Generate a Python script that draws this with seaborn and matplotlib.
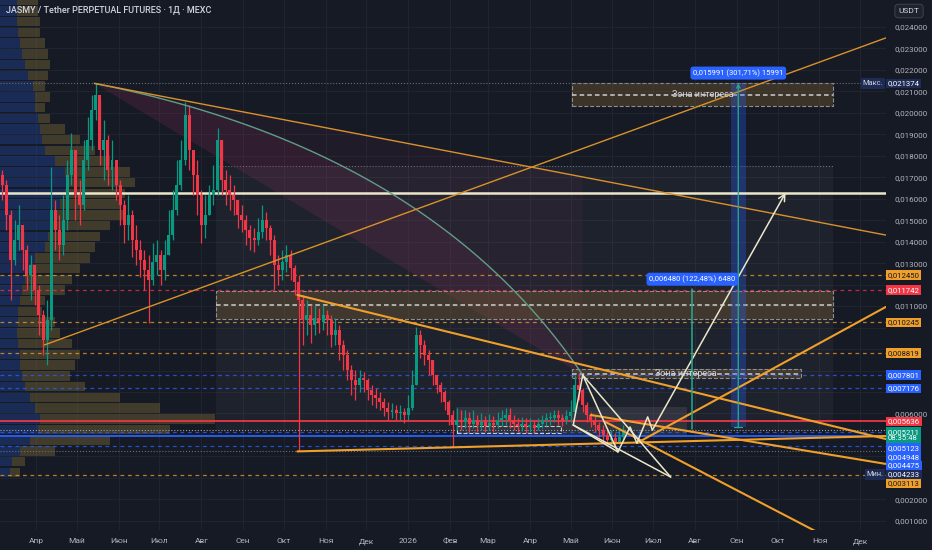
import numpy as np
import pandas as pd
import seaborn as sns
import matplotlib.pyplot as plt
from matplotlib.patches import Rectangle
from matplotlib.transforms import blended_transform_factory

sns.set_theme(style="dark")
plt.rcParams['font.family'] = ['Roboto', 'DejaVu Sans']

# ---- candles (3-day bars, prices in USDT) ----
first_open = 0.01710
closes = [0.01664, 0.01524, 0.01315, 0.01408, 0.01478, 0.01361, 0.01245, 0.01292, 0.01175, 0.01059,
          0.00942, 0.01035, 0.01548, 0.01455, 0.01385, 0.01501, 0.01711, 0.01827, 0.01618, 0.01571,
          0.01781, 0.01874, 0.02013, 0.02083, 0.01827, 0.01874, 0.01734, 0.01781, 0.01664, 0.01571,
          0.01478, 0.01524, 0.01408, 0.01361, 0.01315, 0.01268, 0.01222, 0.01305, 0.01338, 0.01268,
          0.01338, 0.01431, 0.01548, 0.01664, 0.01781, 0.01990, 0.01827, 0.01711, 0.01618,
          0.01478, 0.01524, 0.01618, 0.01641, 0.01874, 0.01687, 0.01641, 0.01618, 0.01594, 0.01524,
          0.01501, 0.01455, 0.01417, 0.01408, 0.01445, 0.01501, 0.01464, 0.01408, 0.01292, 0.01268,
          0.01305, 0.01338, 0.01278, 0.01212, 0.01129, 0.01035, 0.01059, 0.01012, 0.01045, 0.01026,
          0.01059, 0.01035, 0.00965, 0.00989, 0.00919, 0.00872, 0.00802, 0.00756, 0.00733, 0.00765,
          0.00756, 0.00709, 0.00686, 0.00672, 0.00653, 0.00625, 0.00607, 0.00616, 0.00602,
          0.00607, 0.00593, 0.00625, 0.00733, 0.00965, 0.00919, 0.00872, 0.00849, 0.00779, 0.00733,
          0.00700, 0.00653, 0.00593, 0.00546, 0.00570, 0.00560, 0.00579, 0.00551, 0.00570, 0.00546,
          0.00560, 0.00542, 0.00556, 0.00546, 0.00570, 0.00579, 0.00593, 0.00570, 0.00551, 0.00542,
          0.00551, 0.00537, 0.00546, 0.00532, 0.00551, 0.00570, 0.00579, 0.00579, 0.00593,
          0.00579, 0.00570, 0.00588, 0.00607, 0.00733, 0.00709, 0.00639, 0.00593, 0.00570, 0.00546,
          0.00523, 0.00500, 0.00476, 0.00486, 0.00467, 0.00490, 0.005211]
highs = [0.01734, 0.01687, 0.01548, 0.01501, 0.01571, 0.01455, 0.01385, 0.01338, 0.01268, 0.01198,
         0.01082, 0.01129, 0.01748, 0.01594, 0.01524, 0.01618, 0.01781, 0.01906, 0.01781, 0.01687,
         0.01874, 0.01981, 0.02083, 0.021374, 0.02060, 0.01967, 0.01897, 0.01874, 0.01757, 0.01687,
         0.01594, 0.01618, 0.01548, 0.01478, 0.01408, 0.01361, 0.01338, 0.01394, 0.01408, 0.01361,
         0.01408, 0.01548, 0.01641, 0.01781, 0.01874, 0.02051, 0.02037, 0.01827, 0.01781,
         0.01641, 0.01618, 0.01664, 0.01757, 0.01930, 0.01874, 0.01734, 0.01711, 0.01664, 0.01594,
         0.01571, 0.01524, 0.01478, 0.01464, 0.01511, 0.01571, 0.01538, 0.01478, 0.01431, 0.01338,
         0.01361, 0.01385, 0.01361, 0.01292, 0.01245, 0.01152, 0.01129, 0.01105, 0.01105, 0.01091,
         0.01105, 0.01082, 0.01059, 0.01045, 0.01012, 0.00942, 0.00896, 0.00826, 0.00802, 0.00802,
         0.00793, 0.00765, 0.00733, 0.00719, 0.00700, 0.00672, 0.00653, 0.00649, 0.00639,
         0.00639, 0.00625, 0.00686, 0.00802, 0.01003, 0.00989, 0.00942, 0.00896, 0.00849, 0.00779,
         0.00747, 0.00709, 0.00663, 0.00616, 0.00625, 0.00616, 0.00616, 0.00607, 0.00616, 0.00593,
         0.00602, 0.00588, 0.00597, 0.00588, 0.00607, 0.00616, 0.00625, 0.00625, 0.00593, 0.00579,
         0.00584, 0.00579, 0.00579, 0.00570, 0.00579, 0.00593, 0.00602, 0.00607, 0.00616,
         0.00616, 0.00597, 0.00616, 0.00663, 0.00779, 0.00788, 0.00719, 0.00653, 0.00607, 0.00593,
         0.00560, 0.00546, 0.00523, 0.00523, 0.00509, 0.00532, 0.00546]
lows = [0.01594, 0.01455, 0.01129, 0.01292, 0.01361, 0.01268, 0.01175, 0.01129, 0.01105, 0.00965,
        0.00872, 0.00826, 0.00989, 0.01361, 0.01315, 0.01338, 0.01455, 0.01664, 0.01501, 0.01478,
        0.01548, 0.01734, 0.01827, 0.01967, 0.01757, 0.01687, 0.01664, 0.01641, 0.01594, 0.01478,
        0.01394, 0.01408, 0.01329, 0.01292, 0.01236, 0.01175, 0.01021, 0.01198, 0.01245, 0.01198,
        0.01222, 0.01338, 0.01408, 0.01524, 0.01641, 0.01757, 0.01734, 0.01618, 0.01524,
        0.01394, 0.01417, 0.01524, 0.01571, 0.01618, 0.01618, 0.01571, 0.01548, 0.01524, 0.01464,
        0.01445, 0.01385, 0.01361, 0.01352, 0.01385, 0.01417, 0.01408, 0.01338, 0.01175, 0.01198,
        0.01222, 0.01259, 0.01222, 0.01152, 0.004233, 0.00919, 0.00965, 0.00928, 0.00965, 0.00975,
        0.00989, 0.00965, 0.00910, 0.00919, 0.00849, 0.00802, 0.00756, 0.00686, 0.00663, 0.00700,
        0.00700, 0.00663, 0.00639, 0.00625, 0.00616, 0.00588, 0.00570, 0.00579, 0.00570,
        0.00570, 0.00556, 0.00570, 0.00616, 0.00733, 0.00858, 0.00826, 0.00779, 0.00733, 0.00695,
        0.00653, 0.00616, 0.00546, 0.00444, 0.00523, 0.00523, 0.00532, 0.00514, 0.00532, 0.00514,
        0.00523, 0.00514, 0.00523, 0.00514, 0.00532, 0.00542, 0.00546, 0.00532, 0.00523, 0.00514,
        0.00518, 0.00509, 0.00514, 0.00509, 0.00523, 0.00532, 0.00542, 0.00546, 0.00560,
        0.00546, 0.00542, 0.00551, 0.00560, 0.00593, 0.00663, 0.00607, 0.00560, 0.00537, 0.00514,
        0.00490, 0.00467, 0.00448, 0.00453, 0.00439, 0.00458, 0.00476]
candle_start = pd.Timestamp("2025-03-07")
base_date = pd.Timestamp("2025-04-01")

month_labels = ["Апр", "Май", "Июн", "Июл", "Авг", "Сен", "Окт", "Ноя", "Дек", "2026", "Фев",
                "Мар", "Апр", "Май", "Июн", "Июл", "Авг", "Сен", "Окт", "Ноя", "Дек"]

# ---- visible range volume profile ----
vp_price = [0.02525, 0.02475, 0.02425, 0.02375, 0.02325, 0.02275, 0.02225, 0.02175, 0.02125, 0.02075,
            0.02025, 0.01975, 0.01925, 0.01875, 0.01825, 0.01775, 0.01725, 0.01675, 0.01625, 0.01575,
            0.01525, 0.01475, 0.01425, 0.01375, 0.01325, 0.01275, 0.01225, 0.01175, 0.01125, 0.01075,
            0.01025, 0.00975, 0.00925, 0.00875, 0.00825, 0.00775, 0.00725, 0.00675, 0.00625, 0.00575,
            0.00525, 0.00475, 0.00425, 0.00375, 0.00325]
vp_up = [17, 17, 17, 18, 20, 22, 25, 28, 33, 35, 35, 38, 40, 42, 45, 55, 65, 68, 65, 60,
         55, 50, 48, 45, 35, 30, 25, 22, 20, 18, 18, 17, 18, 20, 20, 22, 25, 30, 35, 40,
         38, 30, 20, 12, 10]
vp_total = [38, 38, 40, 40, 45, 48, 50, 48, 45, 50, 45, 50, 65, 80, 95, 110, 130, 135, 125, 120,
            125, 110, 100, 95, 90, 80, 72, 65, 45, 42, 55, 60, 72, 80, 75, 70, 85, 120, 160, 215,
            170, 110, 55, 25, 20]

# ---- horizontal levels ----
level_prices = [0.012450, 0.011742, 0.010245, 0.008819, 0.007801, 0.007176, 0.005636,
                0.005123, 0.004948, 0.004475, 0.003113]
level_colors = ["orange", "red", "orange", "orange", "blue", "blue", "red",
                "blue", "blue", "blue", "orange"]
level_solid = [False, False, False, False, False, False, True, False, True, False, False]
max_price = 0.021374
min_price = 0.004233
last_price = 0.005211
countdown = "08:35:48"
target_level = 0.01628

# ---- drawings (day from 2025-04-01, price) ----
fan_line = [(43, 0.021374), (628, 0.01431)]
rising_line = [(6, 0.00919), (628, 0.02349)]
arc_ctrl = [(43, 0.021374), (292, 0.01827), (404, 0.00779)]
wedge_lines = [[(193, 0.01152), (628, 0.00481)],
               [(193, 0.004233), (628, 0.00495)],
               [(410, 0.00593), (628, 0.00365)],
               [(421, 0.00560), (580, 0.00039)],
               [(444, 0.00462), (628, 0.01096)]]
white_lines = [[(397, 0.00546), (404, 0.00779)],
               [(404, 0.00779), (430, 0.00421)],
               [(404, 0.00779), (469, 0.00304)],
               [(397, 0.00546), (430, 0.00421)],
               [(397, 0.00546), (469, 0.00304)]]
path_days = [430, 439, 444, 452, 455.5]
path_prices = [0.00421, 0.00537, 0.00462, 0.00584, 0.00523]
path_target = (554, 0.01628)

big_box = (133, 589, 0.00523, 0.01753)
mid_zone = (133, 589, 0.01040, 0.01171)
top_zone = (396, 589, 0.02032, 0.02139)
low_zone = (396, 565, 0.00765, 0.00807)
range_box = (310, 481, 0.00500, 0.00630)
small_box = (311, 388, 0.00509, 0.00542)

blue_range = (519, 0.005383, 0.021374, "0,015991 (301,71%) 15991")
green_range = (485, 0.005294, 0.011774, "0,006480 (122,48%) 6480")

# ---- colours ----
BG = "#161a25"
GRID = "#222631"
TXT = "#b2b5be"
UP, DOWN = "#089981", "#f23645"
ORANGE, RED, BLUE = "#f0a02a", "#f23645", "#2962ff"
CREAM = "#ebe7c9"
col_map = {"orange": ORANGE, "red": RED, "blue": BLUE}

fig = plt.figure(figsize=(9.32, 5.5), dpi=100, facecolor=BG)
ax = fig.add_axes([0, 20 / 550, 886 / 932, 530 / 550])
ax.set_facecolor(BG)
for s in ax.spines.values():
    s.set_visible(False)

month_days = (pd.date_range("2025-04-01", "2026-12-01", freq="MS") - base_date).days
ax.set_xticks(month_days)
ax.set_xticklabels(month_labels, va="baseline")
ax.tick_params(axis="x", length=0, pad=9.5, labelsize=6, labelcolor=TXT)

# price tags, stacked downwards like TradingView does
tags = [(p, f"{p:.6f}".replace(".", ","), col_map[c],
         "#131722" if c == "orange" else "white", 1)
        for p, c in zip(level_prices, level_colors)]
tags += [(max_price, f"{max_price:.6f}".replace(".", ","), "#1e2c55", "white", 1),
         (min_price, f"{min_price:.6f}".replace(".", ","), "#1e2c55", "white", 1),
         (last_price, f"{last_price:.6f}".replace(".", ",") + "\n" + countdown, UP, "white", 2)]
tags.sort(key=lambda r: -r[0])
step = 0.00041
floor = 1.0
tag_pos = []
for p, s, fc, tc, n in tags:
    top = min(p + step / 2, floor)
    floor = top - step * n
    tag_pos.append((top, floor))

yt = np.arange(1, 25) / 1000
covered = [any(bot - 0.00015 < v < top + 0.00015 for top, bot in tag_pos) for v in yt]
ax.yaxis.tick_right()
ax.set_yticks(yt)
ax.set_yticklabels(["" if cv else f"{v:.6f}".replace(".", ",") for v, cv in zip(yt, covered)])
ax.tick_params(axis="y", length=0, pad=6, labelsize=5.8, labelcolor=TXT)
ax.grid(True, color=GRID, lw=0.6)
ax.set_axisbelow(True)

trans = blended_transform_factory(ax.transAxes, ax.transData)

# volume profile on the left
vp_scale = 0.243 / max(vp_total)
for p, u, t in zip(vp_price, vp_up, vp_total):
    ax.add_patch(Rectangle((0, p - 0.00022), u * vp_scale, 0.00044, transform=trans,
                           fc="#1f3a80", alpha=0.55, lw=0, zorder=1.2))
    ax.add_patch(Rectangle((u * vp_scale, p - 0.00022), (t - u) * vp_scale, 0.00044,
                           transform=trans, fc="#6b5d32", alpha=0.5, lw=0, zorder=1.2))

# boxes
def box(b, fc, alpha, ec=None, ls="--", z=1):
    ax.add_patch(Rectangle((b[0], b[2]), b[1] - b[0], b[3] - b[2], fc=fc, alpha=alpha,
                           lw=0, zorder=z))
    if ec:
        ax.add_patch(Rectangle((b[0], b[2]), b[1] - b[0], b[3] - b[2], fill=False, ec=ec,
                               lw=0.8, ls=ls, zorder=z + 0.1))

box(big_box, "#9598a1", 0.07, z=1)
ax.plot([big_box[0], big_box[1]], [big_box[3]] * 2, ls=":", color="#6a6d78", lw=0.8, zorder=1.1)
box(range_box, "#9598a1", 0.16, z=1.3)
box(small_box, "#000000", 0.0, ec="#c8c8c8", z=3.5)
for z_ in (mid_zone, top_zone, low_zone):
    box(z_, "#6b5530", 0.45, ec="#8f8f8f", z=2)
    ax.plot([z_[0], z_[1]], [(z_[2] + z_[3]) / 2] * 2, ls=(0, (3, 2)), color="#cfcfcf",
            lw=1.1, zorder=2.2)
for z_ in (top_zone, low_zone):
    ax.text((z_[0] + z_[1]) / 2, (z_[2] + z_[3]) / 2, "Зона интереса", ha="center",
            va="center", fontsize=6.5, color="#d1d4dc", zorder=9)

# arc with its filled segment, plus the faint wedge up to the falling line
t = np.linspace(0, 1, 80)
(x0, y0), (xc, yc), (x2, y2) = arc_ctrl
arc_x = (1 - t) ** 2 * x0 + 2 * t * (1 - t) * xc + t ** 2 * x2
arc_y = (1 - t) ** 2 * y0 + 2 * t * (1 - t) * yc + t ** 2 * y2
(a, b) = fan_line
fan_y_end = a[1] + (b[1] - a[1]) * (x2 - a[0]) / (b[0] - a[0])
ax.fill([x0, x2, x2], [y0, fan_y_end, y2], color="#7b2d55", alpha=0.10, lw=0, zorder=1.4)
ax.fill(arc_x, arc_y, color="#7b2d55", alpha=0.18, lw=0, zorder=1.4)
sns.lineplot(x=arc_x, y=arc_y, sort=False, estimator=None, ax=ax, color="#5f9e86",
             lw=1, zorder=5)

# horizontal levels
for p, c, solid in zip(level_prices, level_colors, level_solid):
    ax.axhline(p, color=col_map[c], lw=1.4 if solid else 0.9, alpha=0.9 if solid else 0.75,
               ls="-" if solid else (0, (3, 3)), zorder=3)
ax.axhline(max_price, color="#6a6d78", ls=":", lw=0.8, zorder=3)
ax.axhline(min_price, color="#6a6d78", ls=":", lw=0.8, zorder=3)
ax.axhline(last_price, color="#9aa0a8", ls=":", lw=0.8, zorder=3)
ax.axhline(target_level, color=CREAM, lw=1.8, zorder=3)

# candles
c_arr = np.array(closes)
o_arr = np.r_[first_open, c_arr[:-1]]
h_arr, l_arr = np.array(highs), np.array(lows)
days = (candle_start - base_date).days + 3 * np.arange(len(c_arr))
cols = np.where(c_arr >= o_arr, UP, DOWN)
ax.vlines(days, l_arr, h_arr, colors=cols, lw=0.9, zorder=4)
ax.bar(days, np.maximum(np.abs(c_arr - o_arr), 0.00005), bottom=np.minimum(o_arr, c_arr),
       width=2.2, color=cols, lw=0, zorder=4.1)

# trend lines
(a, b) = fan_line
ax.plot([a[0], b[0]], [a[1], b[1]], color="#d9912b", lw=1, zorder=5)
(a, b) = rising_line
ax.plot([a[0], b[0]], [a[1], b[1]], color="#d9912b", lw=1, zorder=5)
for a, b in wedge_lines:
    ax.plot([a[0], b[0]], [a[1], b[1]], color=ORANGE, lw=1.5, zorder=5)
for a, b in white_lines:
    ax.plot([a[0], b[0]], [a[1], b[1]], color=CREAM, lw=1.1, zorder=6)
ax.plot(path_days, path_prices, color=CREAM, lw=1.1, zorder=6)
ax.annotate("", xy=path_target, xytext=(path_days[-1], path_prices[-1]),
            arrowprops=dict(arrowstyle="->", color=CREAM, lw=1.1, shrinkA=0, shrinkB=0,
                            mutation_scale=12), zorder=6)

# price range measurements
d, lo, hi, lab = blue_range
ax.add_patch(Rectangle((d - 5.5, lo), 11, hi - lo, fc=BLUE, alpha=0.3, lw=0, zorder=2.5))
ax.annotate("", xy=(d, hi), xytext=(d, lo),
            arrowprops=dict(arrowstyle="->", color="#22ab94", lw=0.9, shrinkA=0, shrinkB=0,
                            mutation_scale=6), zorder=6)
ax.plot([d - 3, d + 3], [lo, lo], color="#22ab94", lw=0.9, zorder=6)
ax.text(d, hi + 0.00048, lab, ha="center", va="center", fontsize=5.5, color="white", zorder=9,
        bbox=dict(boxstyle="round,pad=0.35", fc=BLUE, ec="none"))
d, lo, hi, lab = green_range
ax.plot([d, d], [lo, hi], color="#22ab94", lw=1.1, zorder=6)
ax.text(d, hi + 0.00048, lab, ha="center", va="center", fontsize=5.5, color="white", zorder=9,
        bbox=dict(boxstyle="round,pad=0.35", fc=BLUE, ec="none"))

ax.set_xlim((pd.Timestamp("2025-03-06") - base_date).days - 0.8, 628.2)
ax.set_ylim(0.000572, 0.025258)

for (p, s, fc, tc, n), (top, bot) in zip(tags, tag_pos):
    ax.text(1.002, (top + bot) / 2, s, transform=trans, ha="left", va="center",
            fontsize=5.6, color=tc, linespacing=1.05, zorder=10, clip_on=False,
            bbox=dict(boxstyle="square,pad=0.22", fc=fc, ec="none"))
    if p in (max_price, min_price):
        ax.text(0.997, (top + bot) / 2, "Макс." if p == max_price else "Мин.", transform=trans,
                ha="right", va="center", fontsize=5.3, color="#d1d4dc", zorder=10,
                bbox=dict(boxstyle="square,pad=0.25", fc="#1e2c55", ec="none"))

fig.text(6 / 932, 1 - 10 / 550, "JASMY / Tether PERPETUAL FUTURES · 1Д · MEXC", fontsize=6.5,
         color="#d1d4dc", va="center", fontweight="medium")
fig.text(909 / 932, 1 - 11 / 550, "USDT", fontsize=6, color="#d1d4dc", ha="center", va="center",
         bbox=dict(boxstyle="round,pad=0.45", fc="#1e222d", ec="#3a3e4a", lw=0.8))

fig.savefig("out.png", dpi=100, facecolor=BG)
